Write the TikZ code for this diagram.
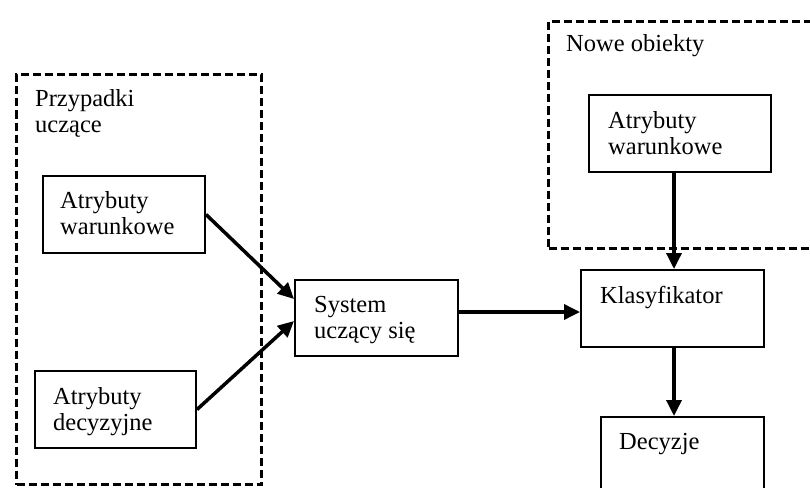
\documentclass[tikz,border=0pt]{standalone}
\usepackage{fontspec}
\setmainfont{Liberation Serif}
\usetikzlibrary{arrows.meta,calc}

\begin{document}
\begin{tikzpicture}[x=1pt, y=-1pt,
  box/.style = {draw, line width=2pt, anchor=north west, inner sep=0pt},
  group/.style = {draw, line width=3pt, dash pattern=on 8pt off 4pt, anchor=north west, inner sep=0pt},
  txt/.style = {anchor=base west, align=left, inner sep=0pt, font=\fontsize{24.5}{26}\selectfont},
  arr/.style = {line width=3.5pt, -{Triangle[length=16pt,width=15pt]}}]
\clip (0,0) rectangle (810,487);
\node[group, minimum width=245pt, minimum height=410pt] (przyp) at (15,73) {};
\node[group, minimum width=300pt, minimum height=227pt] (nowe) at (547,20) {};
\node[box, minimum width=162pt, minimum height=77pt] (aw1) at (42,175) {};
\node[box, minimum width=161pt, minimum height=77pt] (ad) at (34,370) {};
\node[box, minimum width=163pt, minimum height=76pt] (sys) at (294,279) {};
\node[box, minimum width=183pt, minimum height=77pt] (klas) at (580,269) {};
\node[box, minimum width=163pt, minimum height=100pt] (dec) at (600,416) {};
\node[box, minimum width=182pt, minimum height=77pt] (aw2) at (588,94) {};
\node[txt] (przyp-t) at (35,132) {Przypadki\\uczące};
\node[txt] (nowe-t) at (566,52) {Nowe obiekty};
\node[txt] (aw1-t) at (60,234) {Atrybuty\\warunkowe};
\node[txt] (ad-t) at (53,430) {Atrybuty\\decyzyjne};
\node[txt] (sys-t) at (314,338) {System\\uczący się};
\node[txt] (klas-t) at (600,303) {Klasyfikator};
\node[txt] (dec-t) at (619,449) {Decyzje};
\node[txt] (aw2-t) at (608,154) {Atrybuty\\warunkowe};
\coordinate (vx) at (674,0);
\draw[arr] (aw1.east) -- ($(sys.west)+(0,-19)$);
\draw[arr] (ad.east) -- ($(sys.west)+(0,3)$);
\draw[arr] ($(sys.east)+(0,-6)$) coordinate (s) -- (s -| klas.west);
\draw[arr] (aw2.south -| vx) -- (klas.north -| vx);
\draw[arr] (klas.south -| vx) -- (dec.north -| vx);
\end{tikzpicture}
\end{document}
